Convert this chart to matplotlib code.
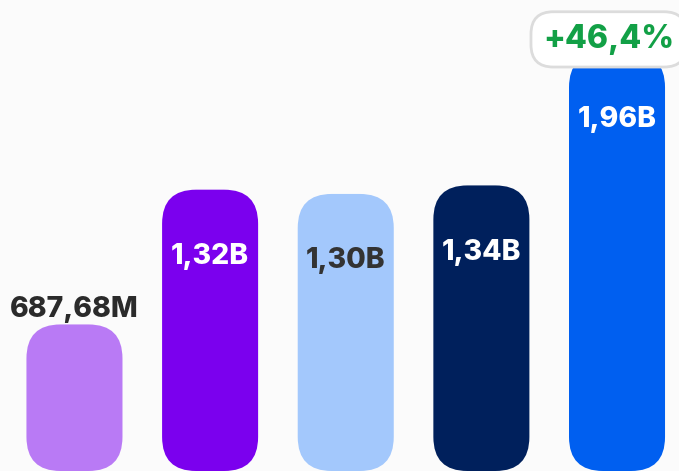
import matplotlib.pyplot as plt
from matplotlib.patches import FancyBboxPatch

# dados
categorias = ["A", "B", "C", "D", "E"]
valores = [687.68, 1320, 1300, 1340, 1960]  # em milhões
rotulos = ["687,68M", "1,32B", "1,30B", "1,34B", "1,96B"]
cores = ["#B97AF5", "#7B00EE", "#A3C8FC", "#00205C", "#005FF0"]
cores_texto = ["#2b2b2b", "white", "#333333", "white", "white"]
variacao = "+46,4%"

plt.rcParams["font.family"] = ["Inter", "DejaVu Sans"]

fig = plt.figure(figsize=(6.79, 4.71), dpi=100)
fig.patch.set_facecolor("#fbfbfb")
ax = fig.add_axes([0, 0, 1, 1])
ax.set_facecolor("#fbfbfb")
ax.set_xlim(-0.549, 4.457)
ax.set_ylim(0, 2210)
ax.axis("off")

largura = 0.708
bars = ax.bar(range(len(valores)), valores, width=largura, color="none")

# proporção pixel y / pixel x para os cantos arredondados
px_x = (ax.get_xlim()[1] - ax.get_xlim()[0]) / 679
px_y = (ax.get_ylim()[1] - ax.get_ylim()[0]) / 471
raio = 34 * px_x

for b, cor in zip(bars, cores):
    x, y = b.get_x(), b.get_y()
    w, h = b.get_width(), b.get_height()
    p = FancyBboxPatch((x, y), w, h,
                       boxstyle=f"round,pad=0,rounding_size={raio}",
                       mutation_aspect=px_y / px_x,
                       facecolor=cor, edgecolor="none")
    ax.add_patch(p)
    b.remove()

for i, (v, r, ct) in enumerate(zip(valores, rotulos, cores_texto)):
    dy = 11 if i == 0 else -48
    ax.annotate(r, (i, v), xytext=(0, dy), textcoords="offset points",
                ha="center", va="center", fontsize=20.5, fontweight="heavy",
                color=ct)

ax.annotate(variacao, (4, valores[4]), xytext=(-6, 10), textcoords="offset points",
            ha="center", va="center", fontsize=23, fontweight="heavy",
            color="#12A046",
            bbox=dict(boxstyle="round,pad=0.38,rounding_size=0.7",
                      facecolor="white", edgecolor="#dcdcdc", linewidth=2))

fig.savefig("out.png", dpi=100, facecolor=fig.get_facecolor())
